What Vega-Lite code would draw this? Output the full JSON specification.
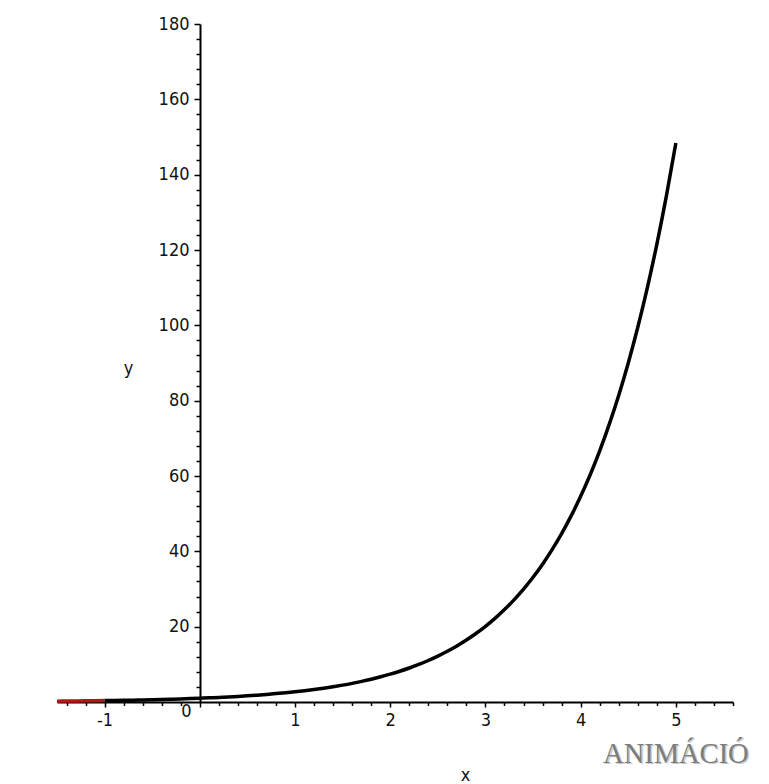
{
  "$schema": "https://vega.github.io/schema/vega-lite/v6.json",
  "width": 676,
  "height": 678,
  "autosize": {"type": "none"},
  "padding": {"left": 57, "top": 24, "right": 36, "bottom": 82},
  "background": "#ffffff",
  "config": {
    "view": {"stroke": null},
    "axis": {
      "labelFont": "DejaVu Sans Condensed, Liberation Sans, sans-serif",
      "labelFontSize": 18,
      "labelColor": "#111111",
      "titleFont": "DejaVu Sans Condensed, Liberation Sans, sans-serif",
      "titleFontSize": 18,
      "titleFontWeight": "normal",
      "titleColor": "#111111",
      "domainColor": "#000000",
      "domainWidth": 2,
      "tickColor": "#000000",
      "tickWidth": 1.5,
      "tickCount": 200,
      "grid": false,
      "labelOverlap": false,
      "labelFlush": false
    }
  },
  "datasets": {
    "curve": [
      {"x": -1.5, "y": 0.223, "part": "lead"},
      {"x": -1.4, "y": 0.247, "part": "lead"},
      {"x": -1.3, "y": 0.273, "part": "lead"},
      {"x": -1.2, "y": 0.301, "part": "lead"},
      {"x": -1.1, "y": 0.333, "part": "lead"},
      {"x": -1.0, "y": 0.368, "part": "lead"},
      {"x": -1.0, "y": 0.368, "part": "main"},
      {"x": -0.9, "y": 0.407, "part": "main"},
      {"x": -0.8, "y": 0.449, "part": "main"},
      {"x": -0.7, "y": 0.497, "part": "main"},
      {"x": -0.6, "y": 0.549, "part": "main"},
      {"x": -0.5, "y": 0.607, "part": "main"},
      {"x": -0.4, "y": 0.670, "part": "main"},
      {"x": -0.3, "y": 0.741, "part": "main"},
      {"x": -0.2, "y": 0.819, "part": "main"},
      {"x": -0.1, "y": 0.905, "part": "main"},
      {"x": 0.0, "y": 1.000, "part": "main"},
      {"x": 0.1, "y": 1.105, "part": "main"},
      {"x": 0.2, "y": 1.221, "part": "main"},
      {"x": 0.3, "y": 1.350, "part": "main"},
      {"x": 0.4, "y": 1.492, "part": "main"},
      {"x": 0.5, "y": 1.649, "part": "main"},
      {"x": 0.6, "y": 1.822, "part": "main"},
      {"x": 0.7, "y": 2.014, "part": "main"},
      {"x": 0.8, "y": 2.226, "part": "main"},
      {"x": 0.9, "y": 2.460, "part": "main"},
      {"x": 1.0, "y": 2.718, "part": "main"},
      {"x": 1.1, "y": 3.004, "part": "main"},
      {"x": 1.2, "y": 3.320, "part": "main"},
      {"x": 1.3, "y": 3.669, "part": "main"},
      {"x": 1.4, "y": 4.055, "part": "main"},
      {"x": 1.5, "y": 4.482, "part": "main"},
      {"x": 1.6, "y": 4.953, "part": "main"},
      {"x": 1.7, "y": 5.474, "part": "main"},
      {"x": 1.8, "y": 6.050, "part": "main"},
      {"x": 1.9, "y": 6.686, "part": "main"},
      {"x": 2.0, "y": 7.389, "part": "main"},
      {"x": 2.1, "y": 8.166, "part": "main"},
      {"x": 2.2, "y": 9.025, "part": "main"},
      {"x": 2.3, "y": 9.974, "part": "main"},
      {"x": 2.4, "y": 11.023, "part": "main"},
      {"x": 2.5, "y": 12.182, "part": "main"},
      {"x": 2.6, "y": 13.464, "part": "main"},
      {"x": 2.7, "y": 14.880, "part": "main"},
      {"x": 2.8, "y": 16.445, "part": "main"},
      {"x": 2.9, "y": 18.174, "part": "main"},
      {"x": 3.0, "y": 20.086, "part": "main"},
      {"x": 3.1, "y": 22.198, "part": "main"},
      {"x": 3.2, "y": 24.533, "part": "main"},
      {"x": 3.3, "y": 27.113, "part": "main"},
      {"x": 3.4, "y": 29.964, "part": "main"},
      {"x": 3.5, "y": 33.115, "part": "main"},
      {"x": 3.6, "y": 36.598, "part": "main"},
      {"x": 3.7, "y": 40.447, "part": "main"},
      {"x": 3.8, "y": 44.701, "part": "main"},
      {"x": 3.9, "y": 49.402, "part": "main"},
      {"x": 4.0, "y": 54.598, "part": "main"},
      {"x": 4.1, "y": 60.340, "part": "main"},
      {"x": 4.2, "y": 66.686, "part": "main"},
      {"x": 4.3, "y": 73.700, "part": "main"},
      {"x": 4.4, "y": 81.451, "part": "main"},
      {"x": 4.5, "y": 90.017, "part": "main"},
      {"x": 4.6, "y": 99.484, "part": "main"},
      {"x": 4.7, "y": 109.947, "part": "main"},
      {"x": 4.8, "y": 121.510, "part": "main"},
      {"x": 4.9, "y": 134.290, "part": "main"},
      {"x": 5.0, "y": 148.413, "part": "main"}
    ],
    "caption": [
      {"x": 5.0, "y": -16.1, "text": "ANIMÁCIÓ"}
    ]
  },
  "layer": [
    {
      "data": {"name": "curve"},
      "mark": {"type": "line", "strokeWidth": 3.5, "interpolate": "monotone", "strokeCap": "butt"},
      "encoding": {
        "x": {
          "field": "x",
          "type": "quantitative",
          "scale": {"domain": [-1.5, 5.6], "nice": false, "zero": false},
          "axis": {
            "orient": "bottom",
            "title": "x",
            "titleX": 408,
            "titleY": 73,
            "titleBaseline": "middle",
            "titleAlign": "center",
            "tickCount": 200,
            "values": [-1.4, -1.2, -1, -0.8, -0.6, -0.4, -0.2, 0, 0.2, 0.4, 0.6, 0.8, 1, 1.2, 1.4, 1.6, 1.8, 2, 2.2, 2.4, 2.6, 2.8, 3, 3.2, 3.4, 3.6, 3.8, 4, 4.2, 4.4, 4.6, 4.8, 5, 5.2, 5.4, 5.6],
            "labelExpr": "datum.value === round(datum.value) ? '' + datum.value : ''",
            "tickSize": {"condition": {"test": "datum.value === round(datum.value)", "value": 5}, "value": 3.5},
            "labelPadding": {"condition": {"test": "datum.value === 0", "value": -5}, "value": 4},
            "labelOffset": {"condition": {"test": "datum.value === 0", "value": -14}, "value": 0}
          }
        },
        "y": {
          "field": "y",
          "type": "quantitative",
          "scale": {"domain": [0, 180], "nice": false, "zero": true},
          "axis": {
            "orient": "left",
            "offset": -143,
            "zindex": 1,
            "title": "y",
            "titleAngle": 0,
            "titleX": -72,
            "titleY": 344,
            "titleBaseline": "middle",
            "titleAlign": "center",
            "tickCount": 200,
            "values": [4, 8, 12, 16, 20, 24, 28, 32, 36, 40, 44, 48, 52, 56, 60, 64, 68, 72, 76, 80, 84, 88, 92, 96, 100, 104, 108, 112, 116, 120, 124, 128, 132, 136, 140, 144, 148, 152, 156, 160, 164, 168, 172, 176, 180],
            "labelExpr": "datum.value % 20 === 0 ? '' + datum.value : ''",
            "tickSize": {"condition": {"test": "datum.value % 20 === 0", "value": 6}, "value": 4},
            "labelPadding": 5
          }
        },
        "color": {
          "field": "part",
          "type": "nominal",
          "scale": {"domain": ["lead", "main"], "range": ["#b01818", "#000000"]},
          "legend": null
        }
      }
    },
    {
      "data": {"name": "caption"},
      "mark": {"type": "text", "font": "Liberation Serif", "fontSize": 28.5, "align": "center", "baseline": "alphabetic", "dx": 1.5, "dy": 1.5, "color": "#c9c9c9"},
      "encoding": {
        "x": {"field": "x", "type": "quantitative"},
        "y": {"field": "y", "type": "quantitative"},
        "text": {"field": "text"}
      }
    },
    {
      "data": {"name": "caption"},
      "mark": {"type": "text", "font": "Liberation Serif", "fontSize": 28.5, "align": "center", "baseline": "alphabetic", "color": "#7d7d7d"},
      "encoding": {
        "x": {"field": "x", "type": "quantitative"},
        "y": {"field": "y", "type": "quantitative"},
        "text": {"field": "text"}
      }
    }
  ]
}
